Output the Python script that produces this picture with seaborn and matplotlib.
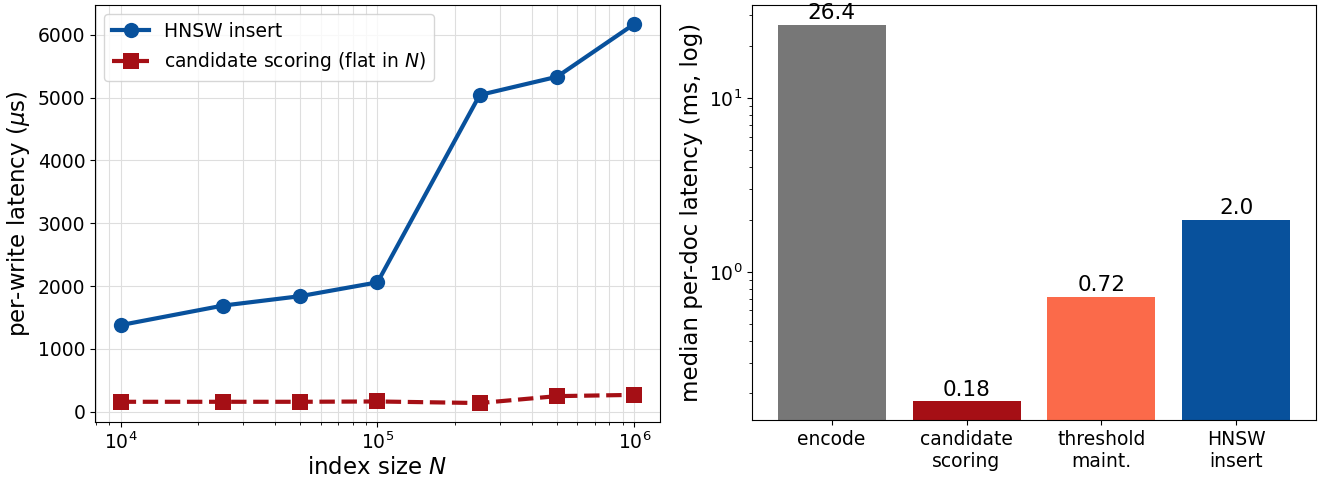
import numpy as np
import pandas as pd
import matplotlib
matplotlib.use("Agg")
import matplotlib.pyplot as plt
import seaborn as sns

# ---- data ----
index_sizes = [1e4, 2.5e4, 5e4, 1e5, 2.5e5, 5e5, 1e6]
hnsw_insert_us = [1380, 1690, 1840, 2060, 5040, 5330, 6170]
cand_scoring_us = [160, 160, 160, 165, 140, 250, 270]

stages = ["encode", "candidate\nscoring", "threshold\nmaint.", "HNSW\ninsert"]
stage_ms = [26.4, 0.18, 0.72, 2.0]
stage_labels = ["26.4", "0.18", "0.72", "2.0"]

# ---- style ----
plt.rcParams["font.family"] = ["DejaVu Sans"]
BLUE = "#08519c"
RED = "#a50f15"
bar_colors = ["#777777", RED, "#fb6a4a", BLUE]

W, H = 1322, 479
fig = plt.figure(figsize=(W / 100, H / 100), dpi=100)
ax1 = fig.add_axes([95 / W, (H - 422) / H, (660 - 95) / W, (422 - 5) / H])
ax2 = fig.add_axes([752 / W, (H - 420) / H, (1316 - 752) / W, (420 - 5) / H])

# ---- left panel ----
ax1.set_xscale("log")
sns.lineplot(x=index_sizes, y=hnsw_insert_us, ax=ax1, color=BLUE, marker="o",
             markersize=11, linewidth=3, markeredgewidth=0, label="HNSW insert")
sns.lineplot(x=index_sizes, y=cand_scoring_us, ax=ax1, color=RED, marker="s",
             markersize=11, linewidth=3, linestyle="--", markeredgewidth=0,
             label="candidate scoring (flat in $N$)")
ax1.grid(True, which="both", color="#dedede", linewidth=0.8)
ax1.set_axisbelow(True)
ax1.set_xlabel("index size $N$", fontsize=16.5, labelpad=2)
ax1.set_ylabel("per-write latency ($\\mu$s)", fontsize=16.5)
ax1.tick_params(labelsize=13.5)
ax1.legend(loc="upper left", fontsize=13.5)

# ---- right panel ----
sns.barplot(x=stages, y=stage_ms, hue=stages, palette=bar_colors, legend=False,
            saturation=1, width=0.8, ax=ax2)
ax2.set_yscale("log")
ax2.set_ylim(min(stage_ms) * 0.78, max(stage_ms) * 1.3)
n = len(stages)
pad = 0.05 * (n - 1 + 0.8)
ax2.set_xlim(-0.4 - pad, n - 1 + 0.4 + pad)
for i, cont in enumerate(ax2.containers):
    ax2.bar_label(cont, labels=[stage_labels[i]], fontsize=15.5, padding=1)
ax2.set_xlabel("")
ax2.set_ylabel("median per-doc latency (ms, log)", fontsize=16.5)
ax2.tick_params(labelsize=13.5)

fig.savefig("out.png", dpi=100)
